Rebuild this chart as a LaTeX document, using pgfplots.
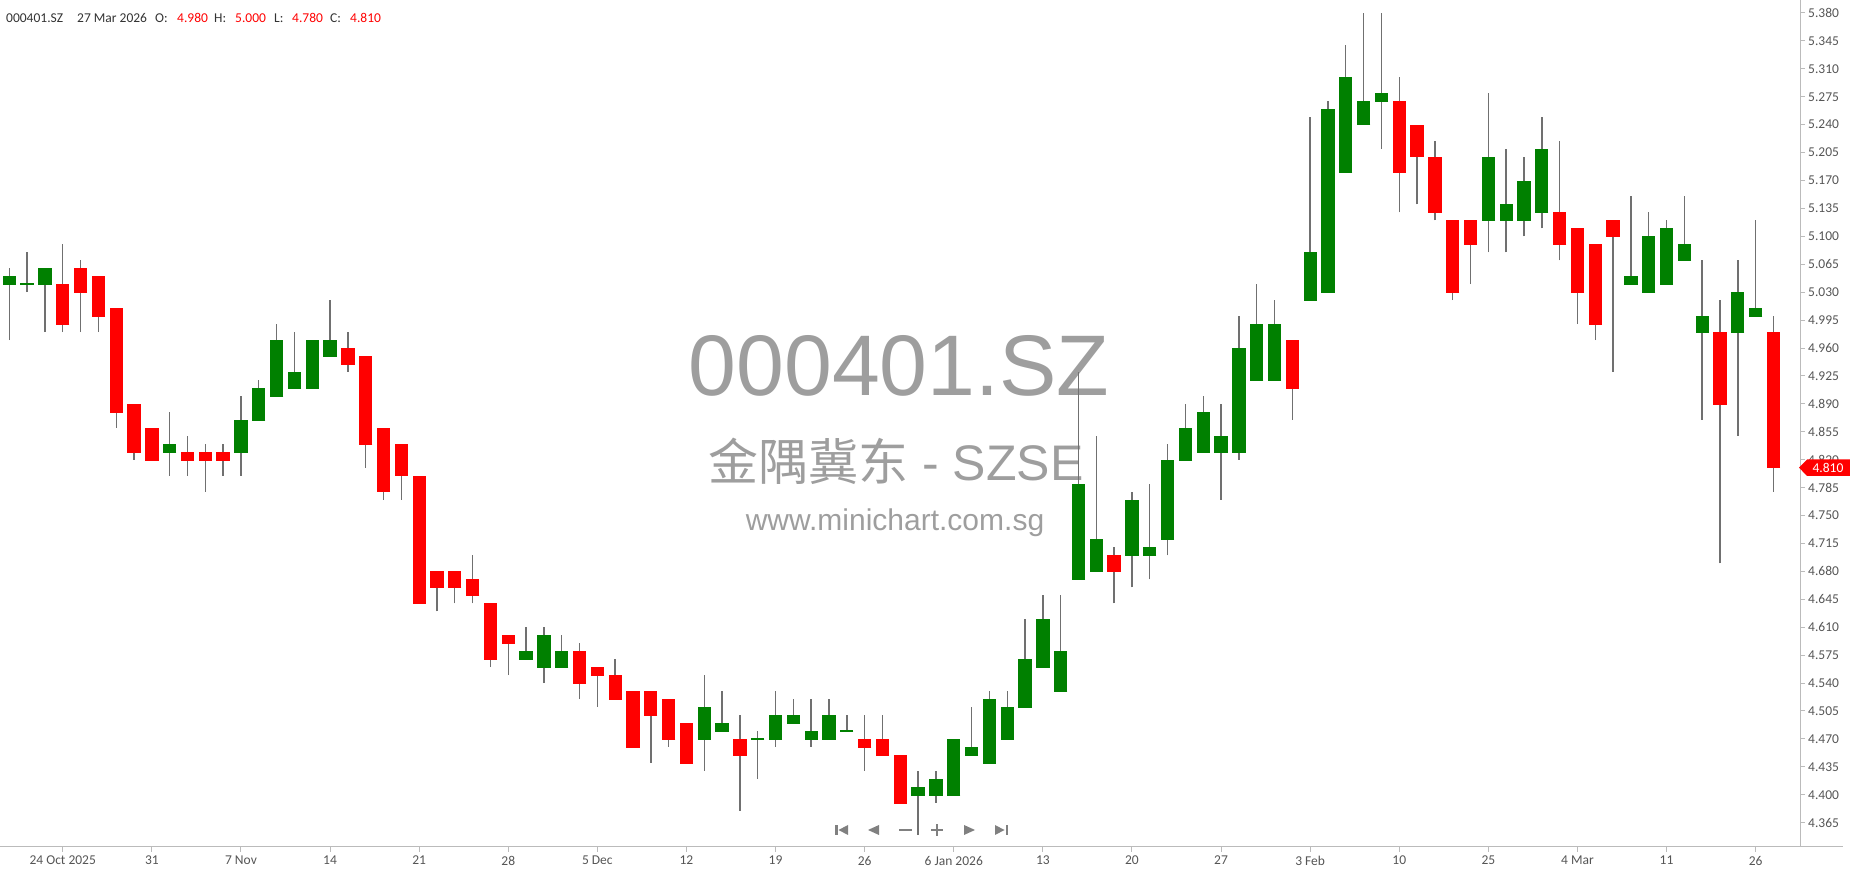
\documentclass[border=0pt]{standalone}
\usepackage{fontspec}
\setmainfont{Carlito}
\newfontfamily\wmfont{Liberation Sans}
\newfontfamily\cjk{Noto Sans CJK SC}
\usepackage{pgfplots}
\usepackage{pgfplotstable}
\pgfplotsset{compat=1.18}
\definecolor{upc}{HTML}{008000}
\definecolor{dnc}{HTML}{FF0000}
\definecolor{wick}{HTML}{707070}
\definecolor{axc}{HTML}{BBBBBB}
\definecolor{lbl}{HTML}{555555}
\definecolor{hdr}{HTML}{333333}
\definecolor{wm}{HTML}{9E9E9E}
\definecolor{nav}{HTML}{808080}

% rising candles (green): index, open, high, low, close
\pgfplotstableread{
i o h l c
0 5.04 5.06 4.97 5.05
1 5.04 5.08 5.03 5.04
2 5.04 5.06 4.98 5.06
9 4.83 4.88 4.80 4.84
13 4.83 4.90 4.80 4.87
14 4.87 4.92 4.87 4.91
15 4.90 4.99 4.90 4.97
16 4.91 4.98 4.91 4.93
17 4.91 4.97 4.91 4.97
18 4.95 5.02 4.95 4.97
29 4.57 4.61 4.57 4.58
30 4.56 4.61 4.54 4.60
31 4.56 4.60 4.56 4.58
39 4.47 4.55 4.43 4.51
40 4.48 4.53 4.48 4.49
42 4.47 4.48 4.42 4.47
43 4.47 4.53 4.46 4.50
44 4.49 4.52 4.49 4.50
45 4.47 4.52 4.46 4.48
46 4.47 4.52 4.47 4.50
47 4.48 4.50 4.48 4.48
51 4.40 4.43 4.35 4.41
52 4.40 4.43 4.39 4.42
53 4.40 4.47 4.40 4.47
54 4.45 4.51 4.45 4.46
55 4.44 4.53 4.44 4.52
56 4.47 4.53 4.47 4.51
57 4.51 4.62 4.51 4.57
58 4.56 4.65 4.56 4.62
59 4.53 4.65 4.53 4.58
60 4.67 4.93 4.67 4.79
61 4.68 4.85 4.68 4.72
63 4.70 4.78 4.66 4.77
64 4.70 4.79 4.67 4.71
65 4.72 4.84 4.70 4.82
66 4.82 4.89 4.82 4.86
67 4.83 4.90 4.83 4.88
68 4.83 4.89 4.77 4.85
69 4.83 5.00 4.82 4.96
70 4.92 5.04 4.92 4.99
71 4.92 5.02 4.92 4.99
73 5.02 5.25 5.02 5.08
74 5.03 5.27 5.03 5.26
75 5.18 5.34 5.18 5.30
76 5.24 5.38 5.24 5.27
77 5.27 5.38 5.21 5.28
83 5.12 5.28 5.08 5.20
84 5.12 5.21 5.08 5.14
85 5.12 5.20 5.10 5.17
86 5.13 5.25 5.11 5.21
91 5.04 5.15 5.04 5.05
92 5.03 5.13 5.03 5.10
93 5.04 5.12 5.04 5.11
94 5.07 5.15 5.07 5.09
95 4.98 5.07 4.87 5.00
97 4.98 5.07 4.85 5.03
98 5.00 5.12 5.00 5.01
}\upc

% falling candles (red): index, open, high, low, close
\pgfplotstableread{
i o h l c
3 5.04 5.09 4.98 4.99
4 5.06 5.07 4.98 5.03
5 5.05 5.05 4.98 5.00
6 5.01 5.01 4.86 4.88
7 4.89 4.89 4.82 4.83
8 4.86 4.86 4.82 4.82
10 4.83 4.85 4.80 4.82
11 4.83 4.84 4.78 4.82
12 4.83 4.84 4.80 4.82
19 4.96 4.98 4.93 4.94
20 4.95 4.95 4.81 4.84
21 4.86 4.86 4.77 4.78
22 4.84 4.84 4.77 4.80
23 4.80 4.80 4.64 4.64
24 4.68 4.68 4.63 4.66
25 4.68 4.68 4.64 4.66
26 4.67 4.70 4.64 4.65
27 4.64 4.64 4.56 4.57
28 4.60 4.60 4.55 4.59
32 4.58 4.59 4.52 4.54
33 4.56 4.56 4.51 4.55
34 4.55 4.57 4.52 4.52
35 4.53 4.53 4.46 4.46
36 4.53 4.53 4.44 4.50
37 4.52 4.52 4.46 4.47
38 4.49 4.49 4.44 4.44
41 4.47 4.50 4.38 4.45
48 4.47 4.50 4.43 4.46
49 4.47 4.50 4.45 4.45
50 4.45 4.45 4.39 4.39
62 4.70 4.71 4.64 4.68
72 4.97 4.97 4.87 4.91
78 5.27 5.30 5.13 5.18
79 5.24 5.24 5.14 5.20
80 5.20 5.22 5.12 5.13
81 5.12 5.12 5.02 5.03
82 5.12 5.12 5.04 5.09
87 5.13 5.22 5.07 5.09
88 5.11 5.11 4.99 5.03
89 5.09 5.09 4.97 4.99
90 5.12 5.12 4.93 5.10
96 4.98 5.02 4.69 4.89
99 4.98 5.00 4.78 4.81
}\dnc

\begin{document}
\begin{tikzpicture}[x=1pt,y=1pt]
\useasboundingbox (0,0) rectangle (1850,874);
% watermark
\node[anchor=base, text=wm, font=\wmfont\fontsize{86}{86}\selectfont, inner sep=0pt] at (899,478) {000401.SZ};
\node[anchor=base, text=wm, font=\fontsize{50}{50}\selectfont, inner sep=0pt] at (896,393) {{\cjk 金隅冀东}{\wmfont\ - SZSE}};
\node[anchor=base, text=wm, font=\wmfont\fontsize{30}{30}\selectfont, inner sep=0pt] at (895,343) {www.minichart.com.sg};

\begin{axis}[
  at={(0pt,27pt)}, anchor=south west,
  scale only axis, width=1800pt, height=847pt,
  xmin=-0.522, xmax=100.49, ymin=4.3345, ymax=5.3963,
  axis x line*=bottom, axis y line*=right,
  axis line style={axc, line width=1pt},
  tick style={axc, line width=1pt},
  major tick length=5pt, tick align=outside,
  xtick={3,8,...,98},
  xticklabels={24 Oct 2025,31,7 Nov,14,21,28,5 Dec,12,19,26,6 Jan 2026,13,20,27,3 Feb,10,25,4 Mar,11,26},
  ytick={4.365,4.400,4.435,4.470,4.505,4.540,4.575,4.610,4.645,4.680,4.715,4.750,4.785,4.820,4.855,4.890,4.925,4.960,4.995,5.030,5.065,5.100,5.135,5.170,5.205,5.240,5.275,5.310,5.345,5.380},
  yticklabel style={/pgf/number format/fixed, /pgf/number format/fixed zerofill, /pgf/number format/precision=3, /pgf/number format/assume math mode=true},
  ticklabel style={font=\fontsize{13.5}{16}\selectfont, text=lbl},
  x tick label style={anchor=north, inner sep=0pt, yshift=-4pt},
  y tick label style={anchor=west, inner sep=0pt, xshift=3pt},
]
% wicks
\addplot[only marks, mark=*, mark options={opacity=0}, forget plot,
  error bars/.cd, y dir=plus, y explicit, error mark=none,
  error bar style={line width=1.4pt, color=wick}]
  table[x=i, y=l, y error plus expr=\thisrow{h}-\thisrow{l}] {\upc};
\addplot[only marks, mark=*, mark options={opacity=0}, forget plot,
  error bars/.cd, y dir=plus, y explicit, error mark=none,
  error bar style={line width=1.4pt, color=wick}]
  table[x=i, y=l, y error plus expr=\thisrow{h}-\thisrow{l}] {\dnc};
% bodies
\addplot[only marks, mark=-, mark size=6.65pt, mark options={line width=1.6pt, color=upc}, forget plot,
  error bars/.cd, y dir=plus, y explicit, error mark=none,
  error bar style={line width=13.3pt, color=upc}]
  table[x=i, y=o, y error plus expr=\thisrow{c}-\thisrow{o}] {\upc};
\addplot[only marks, mark=-, mark size=6.65pt, mark options={line width=1.6pt, color=dnc}, forget plot,
  error bars/.cd, y dir=plus, y explicit, error mark=none,
  error bar style={line width=13.3pt, color=dnc}]
  table[x=i, y=c, y error plus expr=\thisrow{o}-\thisrow{c}] {\dnc};
\end{axis}

\draw[axc, line width=1pt] (1800,27) -- (1843,27);

% header
\begin{scope}[every node/.style={anchor=base west, inner sep=0pt, font=\fontsize{13.5}{16}\selectfont}]
\node[text=hdr] at (6,851) {000401.SZ};
\node[text=hdr] at (77,851) {27 Mar 2026};
\node[text=hdr] at (155,851) {O:};
\node[text=dnc] at (177,851) {4.980};
\node[text=hdr] at (214,851) {H:};
\node[text=dnc] at (235,851) {5.000};
\node[text=hdr] at (274,851) {L:};
\node[text=dnc] at (292,851) {4.780};
\node[text=hdr] at (330,851) {C:};
\node[text=dnc] at (350,851) {4.810};
\end{scope}

% navigation buttons
\fill[nav] (835,39) rectangle (837.5,49);
\fill[nav] (848,49) -- (838.5,44) -- (848,39) -- cycle;
\fill[nav] (879,49) -- (868,44) -- (879,39) -- cycle;
\fill[nav] (899,43) rectangle (912,45.2);
\fill[nav] (931,43) rectangle (943,45.2);
\fill[nav] (935.9,38) rectangle (938.1,50);
\fill[nav] (964,49) -- (975,44) -- (964,39) -- cycle;
\fill[nav] (995,49) -- (1004.5,44) -- (995,39) -- cycle;
\fill[nav] (1005.5,39) rectangle (1008,49);

% last price tag
\fill[dnc] (1799,406.3) -- (1807,414.5) -- (1850,414.5) -- (1850,398.1) -- (1807,398.1) -- cycle;
\node[text=white, anchor=center, inner sep=0pt, font=\fontsize{13.5}{16}\selectfont] at (1828,406.3) {4.810};
\end{tikzpicture}
\end{document}
